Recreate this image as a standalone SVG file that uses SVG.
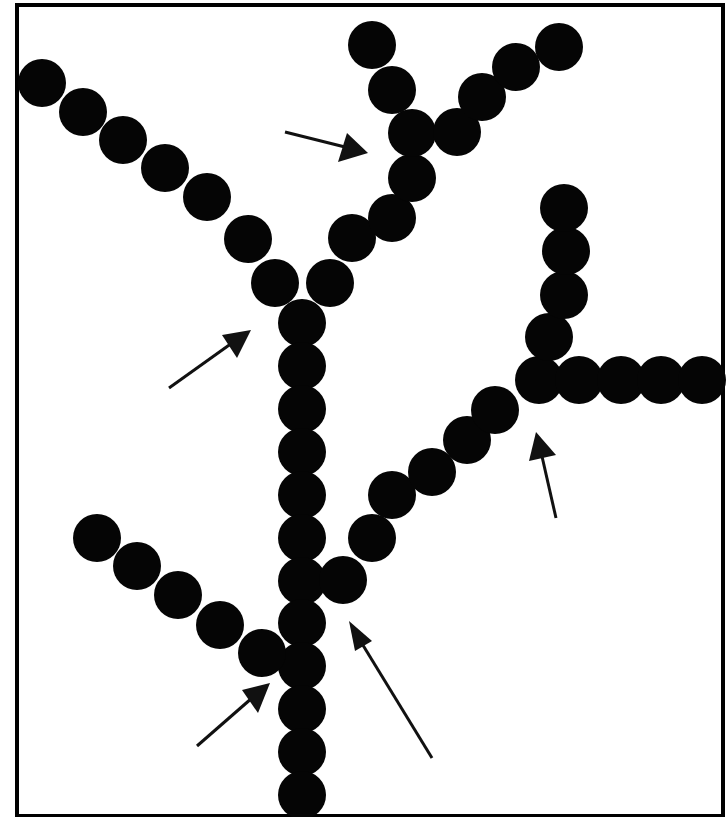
<svg xmlns="http://www.w3.org/2000/svg" width="728" height="817" viewBox="0 0 728 817">
<style>
.g circle{fill:#050505}
.a{stroke:#111;stroke-width:3;fill:none}
.h{fill:#111}
</style>
<rect x="0" y="0" width="728" height="817" fill="#fff"/>
<rect x="17" y="5" width="706" height="811" fill="none" stroke="#000" stroke-width="4"/>
<g id="stem" class="g">
<circle cx="302" cy="323" r="24"/><circle cx="302" cy="366" r="24"/><circle cx="302" cy="409" r="24"/><circle cx="302" cy="452" r="24"/><circle cx="302" cy="495" r="24"/><circle cx="302" cy="538" r="24"/><circle cx="302" cy="581" r="24"/><circle cx="302" cy="623" r="24"/><circle cx="302" cy="666" r="24"/><circle cx="302" cy="709" r="24"/><circle cx="302" cy="752" r="24"/><circle cx="302" cy="795" r="24"/>
</g>
<g id="upper-left-branch" class="g">
<circle cx="42" cy="83" r="24"/><circle cx="83" cy="112" r="24"/><circle cx="123" cy="140" r="24"/><circle cx="165" cy="168" r="24"/><circle cx="207" cy="197" r="24"/><circle cx="248" cy="239" r="24"/><circle cx="275" cy="283" r="24"/>
</g>
<g id="upper-right-branch" class="g">
<circle cx="330" cy="283" r="24"/><circle cx="352" cy="238" r="24"/><circle cx="392" cy="218" r="24"/><circle cx="412" cy="178" r="24"/><circle cx="412" cy="133" r="24"/><circle cx="392" cy="90" r="24"/><circle cx="372" cy="45" r="24"/>
<circle cx="457" cy="132" r="24"/><circle cx="482" cy="97" r="24"/><circle cx="516" cy="67" r="24"/><circle cx="559" cy="47" r="24"/>
</g>
<g id="right-branch" class="g">
<circle cx="343" cy="580" r="24"/><circle cx="372" cy="538" r="24"/><circle cx="392" cy="495" r="24"/><circle cx="432" cy="472" r="24"/><circle cx="467" cy="440" r="24"/><circle cx="495" cy="410" r="24"/>
<circle cx="539" cy="380" r="24"/><circle cx="549" cy="337" r="24"/><circle cx="564" cy="295" r="24"/><circle cx="566" cy="251" r="24"/><circle cx="564" cy="208" r="24"/>
<circle cx="579" cy="380" r="24"/><circle cx="621" cy="380" r="24"/><circle cx="661" cy="380" r="24"/><circle cx="702" cy="380" r="24"/>
</g>
<g id="lower-left-branch" class="g">
<circle cx="97" cy="538" r="24"/><circle cx="137" cy="566" r="24"/><circle cx="178" cy="595" r="24"/><circle cx="220" cy="625" r="24"/><circle cx="262" cy="653" r="24"/>
</g>
<g id="arrows">
<line class="a" x1="285" y1="132" x2="345" y2="147"/><polygon class="h" points="368,153 338,162 347,133"/>
<line class="a" x1="169" y1="388" x2="232" y2="343"/><polygon class="h" points="251,330 237,358 222,335"/>
<line class="a" x1="197" y1="746" x2="252" y2="698"/><polygon class="h" points="270,683 258,713 242,690"/>
<line class="a" x1="432" y1="758" x2="361" y2="642"/><polygon class="h" points="349,621 372,641 355,651"/>
<line class="a" x1="556" y1="518" x2="541" y2="452"/><polygon class="h" points="536,432 556,455 529,461"/>
</g>
</svg>
